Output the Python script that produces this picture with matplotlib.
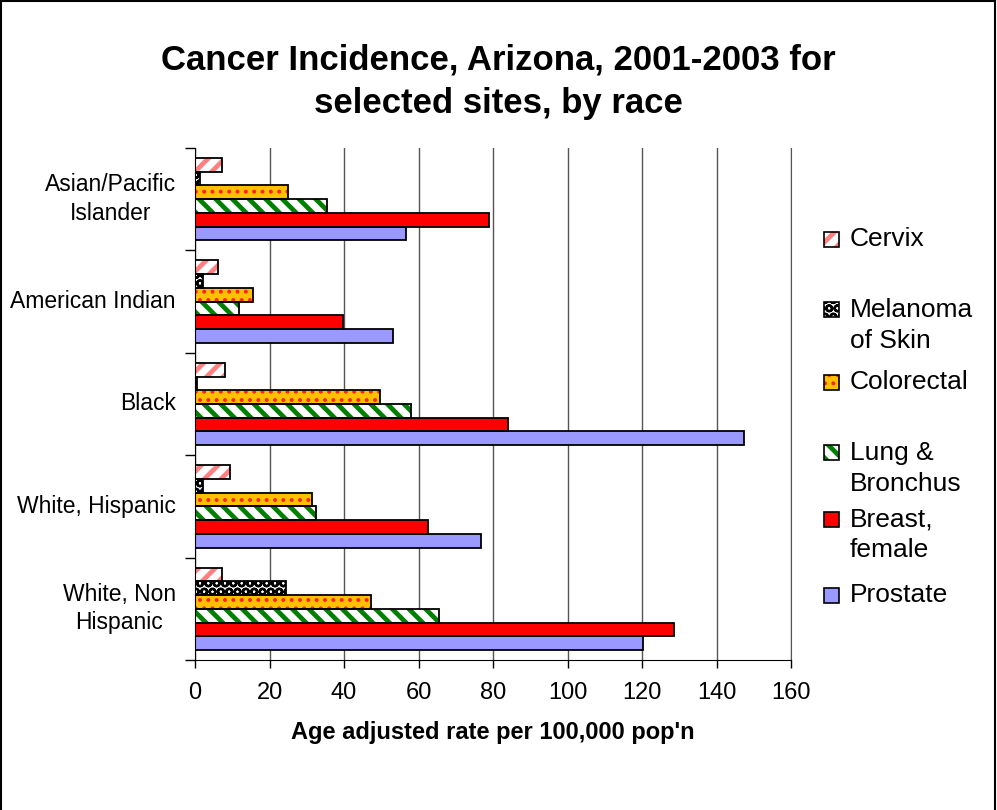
import numpy as np
import matplotlib
matplotlib.use("Agg")
import matplotlib.pyplot as plt
from matplotlib.patches import Rectangle
from matplotlib.lines import Line2D

races = ["Asian/Pacific\nIslander", "American Indian", "Black",
         "White, Hispanic", "White, Non\nHispanic"]

cervix = [7.2, 6.3, 8.0, 9.4, 7.3]
melanoma = [1.3, 2.1, 0.5, 2.2, 24.3]
colorectal = [24.9, 15.6, 49.7, 31.3, 47.2]
lung = [35.5, 11.7, 58.1, 32.5, 65.6]
breast = [79.0, 39.6, 83.9, 62.6, 128.5]
prostate = [56.6, 53.2, 147.5, 76.8, 120.3]

sites = ["Cervix", "Melanoma\nof Skin", "Colorectal", "Lung &\nBronchus",
         "Breast,\nfemale", "Prostate"]
series = [cervix, melanoma, colorectal, lung, breast, prostate]

# face colour, hatch, hatch colour, hatch linewidth
styles = [
    ("white", "//", "#ff8080", 3.4),
    ("white", "OO", "black", 1.7),
    ("#ffc000", "..", "#ff2020", 1.6),
    ("white", "\\\\", "#008000", 3.4),
    ("#ff0000", None, None, 1.0),
    ("#9999ff", None, None, 1.0),
]

plt.rcParams["font.family"] = ["Liberation Sans", "DejaVu Sans"]

fig = plt.figure(figsize=(9.97, 8.10), dpi=100)
ax = fig.add_axes([195 / 997, 1 - 660 / 810, 596 / 997, 512 / 810])

n = len(races)
y = np.arange(n)
h = 0.134
for j, (vals, (fc, hatch, hc, hlw)) in enumerate(zip(series, styles)):
    pos = y - 3 * h + (j + 0.5) * h
    ax.barh(pos, vals, height=h, color=fc, edgecolor="none", zorder=2)
    if hatch:
        with plt.rc_context({"hatch.linewidth": hlw}):
            ax.barh(pos, vals, height=h, color="none", edgecolor=hc,
                    hatch=hatch, linewidth=0, zorder=3)
    ax.barh(pos, vals, height=h, color="none", edgecolor="black",
            linewidth=1.3, zorder=4)

ax.set_xlim(0, 160)
ax.set_ylim(n - 0.5, -0.5)
ax.set_xticks(np.arange(0, 161, 20))
ax.tick_params(axis="x", length=6, width=1, pad=10, labelsize=17)
ax.set_yticks(np.arange(-0.5, n, 1.0))
ax.set_yticklabels([])
ax.tick_params(axis="y", length=7, width=1)
for i, r in enumerate(races):
    ax.text(-0.032, i, r, transform=ax.get_yaxis_transform(), ha="right",
            va="center", multialignment="center", fontsize=16.5,
            linespacing=1.3)

ax.grid(axis="x", color="#555555", linewidth=1, zorder=0)
ax.set_axisbelow(True)
ax.spines["top"].set_visible(False)
ax.spines["right"].set_color("#555555")
ax.spines["left"].set_zorder(5)

ax.set_xlabel("Age adjusted rate per 100,000 pop'n", fontsize=17,
              fontweight="bold", labelpad=12)
fig.text(0.5, 1 - 82 / 810, "Cancer Incidence, Arizona, 2001-2003 for\nselected sites, by race",
         ha="center", va="center", fontsize=25, fontweight="bold",
         linespacing=1.42)

# legend drawn by hand to follow the uneven spacing of the original
leg_y = [239, 310, 382, 453, 519, 595]
for (label, (fc, hatch, hc, hlw), yy) in zip(sites, styles, leg_y):
    x0, w = 824 / 997, 15 / 997
    hh = 15 / 810
    y0 = 1 - yy / 810 - hh / 2
    fig.add_artist(Rectangle((x0, y0), w, hh, facecolor=fc, edgecolor="none",
                             transform=fig.transFigure))
    if hatch:
        with plt.rc_context({"hatch.linewidth": hlw}):
            fig.add_artist(Rectangle((x0, y0), w, hh, facecolor="none",
                                     edgecolor=hc, hatch=hatch, linewidth=0,
                                     transform=fig.transFigure))
    fig.add_artist(Rectangle((x0, y0), w, hh, facecolor="none",
                             edgecolor="black", linewidth=1.2,
                             transform=fig.transFigure))
    for k, line in enumerate(label.split("\n")):
        fig.text(850 / 997, 1 - (yy + k * 31) / 810, line, ha="left",
                 va="center", fontsize=19)

# outer frame
for xs, ys in [([0.001, 0.001], [0, 0.999]), ([0.001, 0.998], [0.999, 0.999]),
               ([0.998, 0.998], [0.999, 0])]:
    fig.add_artist(Line2D(xs, ys, color="black", linewidth=1.5,
                          transform=fig.transFigure))

fig.savefig("out.png", dpi=100)
